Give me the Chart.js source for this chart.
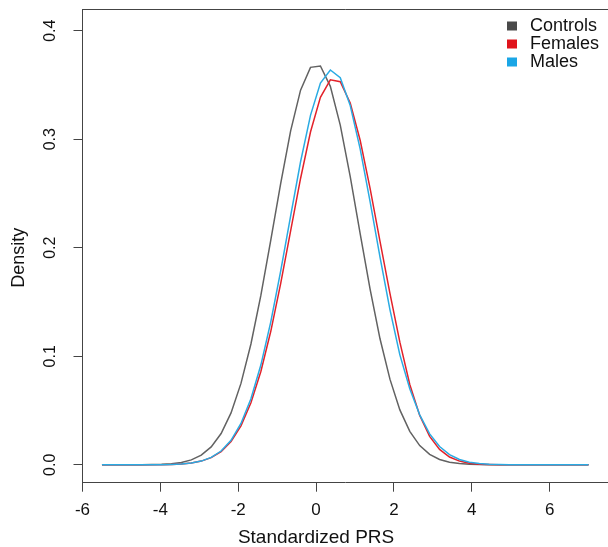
<!DOCTYPE html>
<html>
<head>
<meta charset="utf-8">
<script src="https://cdn.jsdelivr.net/npm/chart.js@4.4.1/dist/chart.umd.min.js"></script>
<style>
html,body{margin:0;padding:0;background:#fff;}
canvas{display:block;}
</style>
</head>
<body>
<canvas id="c" width="608" height="547" style="width:608px;height:547px"></canvas>
<script>
// ---- data ----
const prsValues = [-5.5,-5.245,-4.990,-4.735,-4.480,-4.224,-3.969,-3.714,-3.459,-3.204,
  -2.949,-2.694,-2.439,-2.184,-1.929,-1.673,-1.418,-1.163,-0.908,-0.653,
  -0.398,-0.143,0.112,0.367,0.622,0.878,1.133,1.388,1.643,1.898,
  2.153,2.408,2.663,2.918,3.173,3.429,3.684,3.939,4.194,4.449,
  4.704,4.959,5.214,5.469,5.724,5.980,6.235,6.490,6.745,7.000];

const controlsDensity = [0,0,0.00001,0.00003,0.00007,0.00018,0.00043,0.0010,0.0022,0.0045,
  0.0089,0.0165,0.0288,0.0478,0.0750,0.1113,0.1560,0.2069,0.2594,0.3077,
  0.3452,0.3662,0.3674,0.3487,0.3130,0.2655,0.2131,0.1618,0.1161,0.0789,
  0.0506,0.0308,0.0177,0.0096,0.0049,0.0024,0.0011,0.00048,0.0002,0.00008,
  0.00003,0.00001,0,0,0,0,0,0,0,0];

const femalesDensity = [0,0,0,0.00001,0.00002,0.00006,0.00014,0.00033,0.00076,0.0016,
  0.0034,0.0066,0.0122,0.0215,0.0359,0.0571,0.0860,0.1230,0.1671,0.2155,
  0.2638,0.3066,0.3385,0.3547,0.3529,0.3333,0.2990,0.2546,0.2058,0.1580,
  0.1130,0.0740,0.0455,0.0262,0.0142,0.0072,0.0034,0.0015,0.0006,0.00025,
  0.0001,0.00004,0.00001,0,0,0,0,0,0,0];

const malesDensity = [0,0,0,0.00001,0.00002,0.00005,0.00013,0.00032,0.00074,0.0016,
  0.0034,0.0068,0.0127,0.0226,0.0381,0.0609,0.0919,0.1317,0.1786,0.2294,
  0.2792,0.3220,0.3517,0.3638,0.3566,0.3310,0.2911,0.2425,0.1913,0.1430,
  0.1013,0.0700,0.0460,0.0285,0.0168,0.0093,0.0049,0.0024,0.0011,0.0005,
  0.0002,0.00008,0.00003,0.00001,0,0,0,0,0,0];

const seriesLabels = ['Controls', 'Females', 'Males'];
const seriesColors = ['#626262', '#e3222a', '#2aabe3'];
const legendColors = ['#4a4a4a', '#e0141c', '#1aa6e6'];
const xTickValues = [-6, -4, -2, 0, 2, 4, 6];
const yTickValues = [0, 0.1, 0.2, 0.3, 0.4];
const xTitle = 'Standardized PRS';
const yTitle = 'Density';

const FONT = '"Liberation Sans", Arial, Helvetica, sans-serif';
const seriesData = [controlsDensity, femalesDensity, malesDensity];

const datasets = seriesLabels.map((lab, i) => ({
  label: lab,
  data: prsValues.map((x, j) => ({ x: x, y: seriesData[i][j] })),
  borderColor: seriesColors[i],
  backgroundColor: seriesColors[i],
  borderWidth: 1.5,
  pointRadius: 0,
  tension: 0,
  fill: false,
  order: 2 - i
}));

const rStylePlugin = {
  id: 'rStyle',
  afterDraw(chart) {
    const ctx = chart.ctx;
    const area = chart.chartArea;
    const xs = chart.scales.x, ys = chart.scales.y;
    ctx.save();
    // top frame line
    ctx.strokeStyle = '#444';
    ctx.lineWidth = 1;
    ctx.beginPath();
    ctx.moveTo(area.left, area.top);
    ctx.lineTo(area.right, area.top);
    ctx.stroke();

    // y tick labels (rotated, R style)
    ctx.fillStyle = '#111';
    ctx.font = '16px ' + FONT;
    ctx.textAlign = 'center';
    ctx.textBaseline = 'middle';
    ys.ticks.forEach(t => {
      const py = ys.getPixelForValue(t.value);
      ctx.save();
      ctx.translate(51, py);
      ctx.rotate(-Math.PI / 2);
      ctx.fillText(t.value.toFixed(1), 0, 0);
      ctx.restore();
    });

    // axis titles
    ctx.font = '19px ' + FONT;
    const midX = xs.getPixelForValue((xTickValues[0] + xTickValues[xTickValues.length - 1]) / 2);
    ctx.fillText(xTitle, midX, 538);
    ctx.font = '18px ' + FONT;
    ctx.save();
    ctx.translate(19, (ys.getPixelForValue(0) + ys.getPixelForValue(0.4)) / 2 + 10);
    ctx.rotate(-Math.PI / 2);
    ctx.fillText(yTitle, 0, 0);
    ctx.restore();

    // legend
    ctx.font = '18px ' + FONT;
    ctx.textAlign = 'left';
    chart.data.datasets.forEach((ds, i) => {
      const cy = 26 + i * 18;
      ctx.fillStyle = legendColors[i];
      ctx.fillRect(507, cy - 4.5, 10, 9);
      ctx.fillStyle = '#111';
      ctx.fillText(ds.label, 530, cy);
    });
    ctx.restore();
  }
};

new Chart(document.getElementById('c'), {
  type: 'line',
  data: { datasets: datasets },
  options: {
    responsive: false,
    animation: false,
    layout: { padding: { top: 9.5, left: 0, right: 0, bottom: 0 } },
    plugins: { legend: { display: false }, tooltip: { enabled: false } },
    scales: {
      x: {
        type: 'linear',
        min: -6,
        max: 7.5,
        afterBuildTicks: s => { s.ticks = xTickValues.map(v => ({ value: v })); },
        afterFit: s => { s.height = 64.3; },
        grid: { drawOnChartArea: false, drawTicks: true, tickLength: 9, color: '#444', lineWidth: 1 },
        border: { display: true, color: '#444', width: 1 },
        ticks: {
          font: { family: FONT, size: 17 },
          color: '#111',
          padding: 8,
          maxRotation: 0,
          autoSkip: false
        }
      },
      y: {
        type: 'linear',
        min: -0.0165,
        max: 0.4195,
        afterBuildTicks: s => { s.ticks = yTickValues.map(v => ({ value: v })); },
        afterFit: s => { s.width = 82.5; },
        grid: { drawOnChartArea: false, drawTicks: true, tickLength: 9, color: '#444', lineWidth: 1 },
        border: { display: true, color: '#444', width: 1 },
        ticks: { display: false }
      }
    }
  },
  plugins: [rStylePlugin]
});
</script>
</body>
</html>
